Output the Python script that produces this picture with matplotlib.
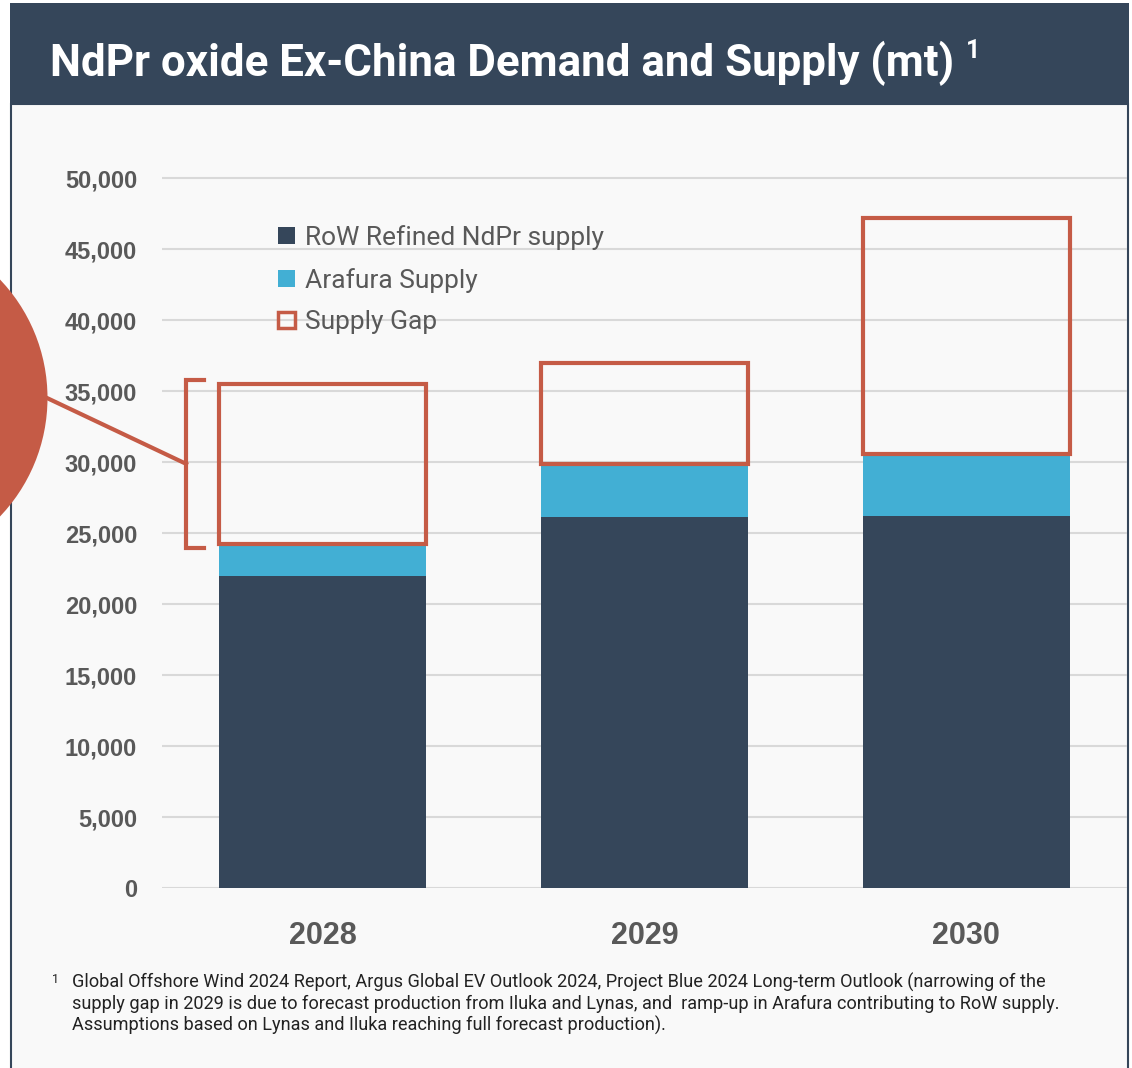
import matplotlib.pyplot as plt
from matplotlib.patches import Rectangle, Circle, Patch
from matplotlib.lines import Line2D

# data (mt)
years = ["2028", "2029", "2030"]
row_supply = [22000, 26100, 26200]
arafura_supply = [2200, 3750, 4400]
total_demand = [35500, 37000, 47200]
y_ticks = [0, 5000, 10000, 15000, 20000, 25000, 30000, 35000, 40000, 45000, 50000]

DARK = "#35465A"
BLUE = "#42AFD4"
RED = "#C55B46"
GREY = "#595959"
BG = "#F9F9F9"

W, H = 1132, 1068
fig = plt.figure(figsize=(W / 100, H / 100), dpi=100)
fig.patch.set_facecolor("white")


def fx(x):
    return x / W


def fy(y):
    return 1 - y / H


# panel frame (runs off the bottom) + title bar
fig.patches.append(Rectangle((fx(11), -0.01), fx(1128) - fx(11), fy(104) + 0.01, transform=fig.transFigure,
                             facecolor=BG, edgecolor=DARK, lw=1.5, zorder=-3))
fig.patches.append(Rectangle((fx(10), fy(105)), fx(1129) - fx(10), fy(3) - fy(105), transform=fig.transFigure,
                             facecolor=DARK, edgecolor="none", zorder=-2))

# title with superscript
title = fig.text(fx(50), fy(76), "NdPr oxide Ex-China Demand and Supply (mt)", color="white",
                 fontsize=31.6, fontweight="bold", family=["Roboto", "DejaVu Sans"], va="baseline")
renderer = fig.canvas.get_renderer()
bb = title.get_window_extent(renderer)
fig.text(bb.x1 / W + fx(12), fy(58), "1", color="white", fontsize=18, fontweight="bold",
         family=["Roboto", "DejaVu Sans"], va="baseline")

# callout circle (cut off at left edge), in pixel coords so it stays round
circ = Circle((-124, H - 398), 171.5, transform=None, facecolor=RED, edgecolor="none", zorder=-1)
fig.patches.append(circ)

ax = fig.add_axes([fx(162), fy(888), fx(1127) - fx(162), fy(171) - fy(888)])
ax.set_facecolor("none")

x = list(range(len(years)))
bw = 0.643
stack = [r + a for r, a in zip(row_supply, arafura_supply)]
gap = [t - s for t, s in zip(total_demand, stack)]

ax.bar(x, row_supply, bw, color=DARK, zorder=2)
ax.bar(x, arafura_supply, bw, bottom=row_supply, color=BLUE, zorder=2)
ax.bar(x, gap, bw, bottom=stack, facecolor="none", edgecolor=RED, lw=3, zorder=3)

ax.set_xlim(-0.5, 2.5)
ax.set_ylim(0, 50500)
ax.set_yticks(y_ticks)
ax.set_yticklabels([f"{v:,}" for v in y_ticks])
ax.set_xticks(x)
ax.set_xticklabels(years)
ax.grid(axis="y", color="#D9D9D9", lw=1.5, zorder=0)
ax.set_axisbelow(True)
for s in ax.spines.values():
    s.set_visible(False)
ax.tick_params(axis="y", length=0, pad=18, labelsize=17, labelcolor=GREY)
ax.tick_params(axis="x", length=0, pad=24, labelsize=22, labelcolor=GREY)
for lbl in ax.get_yticklabels() + ax.get_xticklabels():
    lbl.set_fontweight("bold")
    lbl.set_family(["Liberation Sans", "DejaVu Sans"])

# bracket around the 2028 gap + connector to circle
top = total_demand[0] + 300
bot = stack[0] - 250
bx, tx = -0.425, -0.37
ax.add_line(Line2D([tx, bx, bx, tx], [top, top, bot, bot], color=RED, lw=3, clip_on=False,
                   solid_joinstyle="miter"))
mid = (top + bot) / 2
p0 = ax.transData.transform((bx, mid))
ax.add_line(Line2D([p0[0], 47], [p0[1], H - 398], transform=None, color=RED, lw=3, clip_on=False))

# legend
handles = [Patch(facecolor=DARK, edgecolor="none"),
           Patch(facecolor=BLUE, edgecolor="none"),
           Patch(facecolor="none", edgecolor=RED, lw=2.5)]
labels = ["RoW Refined NdPr supply", "Arafura Supply", "Supply Gap"]
leg = fig.legend(handles, labels, loc="upper left", bbox_to_anchor=(fx(278), fy(225)),
                 frameon=False, handlelength=0.63, handleheight=0.6,
                 handletextpad=0.4, labelspacing=0.67, borderpad=0, borderaxespad=0,
                 prop={"family": ["Roboto", "DejaVu Sans"], "size": 19})
for t in leg.get_texts():
    t.set_color(GREY)

# footnote
fig.text(fx(52), fy(983), "1", fontsize=9, color="#222222", family=["Roboto", "DejaVu Sans"],
         va="baseline")
fig.text(fx(72), fy(973),
         "Global Offshore Wind 2024 Report, Argus Global EV Outlook 2024, Project Blue 2024 Long-term Outlook (narrowing of the\n"
         "supply gap in 2029 is due to forecast production from Iluka and Lynas, and  ramp-up in Arafura contributing to RoW supply.\n"
         "Assumptions based on Lynas and Iluka reaching full forecast production).",
         fontsize=13.1, color="#222222", family=["Roboto", "DejaVu Sans"],
         va="top", linespacing=1.2, ha="left")

fig.savefig("out.png", dpi=100)
